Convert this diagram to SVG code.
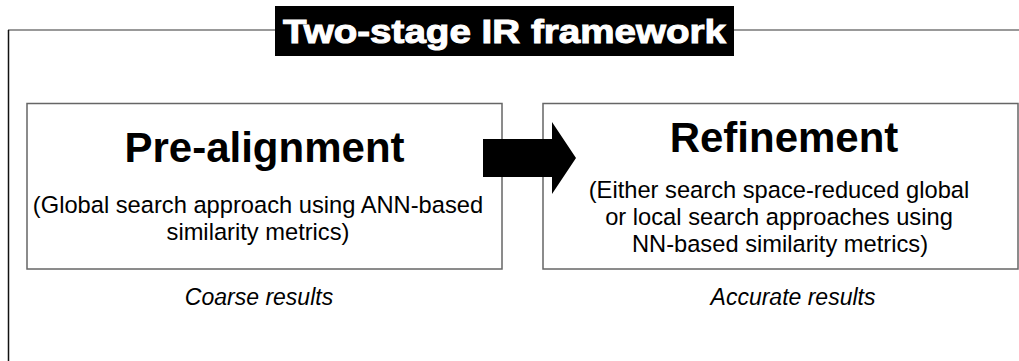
<svg xmlns="http://www.w3.org/2000/svg" width="1019" height="361" viewBox="0 0 1019 361">
<style>
.box{fill:#fff;stroke:#666;stroke-width:1.5}
.head{font-family:"Liberation Sans",Arial,sans-serif;font-weight:bold;font-size:42px;fill:#000;text-anchor:middle}
.sub{font-family:"Liberation Sans",Arial,sans-serif;font-size:23.7px;fill:#000;text-anchor:middle}
.res{font-family:"Liberation Sans",Arial,sans-serif;font-style:italic;font-size:23px;fill:#000;text-anchor:middle}
</style>
<rect width="1019" height="361" fill="#fff"/>
<g id="frame">
<line x1="8" y1="30" x2="1019" y2="30" stroke="#777" stroke-width="1.5"/>
<line x1="8.5" y1="30" x2="8.5" y2="361" stroke="#111" stroke-width="1.5"/>
</g>
<g id="title">
<rect x="275" y="6" width="459" height="50" fill="#000"/>
<text x="504.5" y="43" font-family="'Liberation Sans',Arial,sans-serif" font-weight="bold" font-size="33" fill="#fff" stroke="#fff" stroke-width="1" text-anchor="middle" textLength="443" lengthAdjust="spacingAndGlyphs">Two-stage IR framework</text>
</g>
<g id="prealignment">
<rect class="box" x="27" y="103.5" width="475" height="165.5"/>
<text class="head" x="264.5" y="162">Pre-alignment</text>
<text class="sub" x="258" y="213">(Global search approach using ANN-based</text>
<text class="sub" x="258" y="240">similarity metrics)</text>
<text class="res" x="259" y="305">Coarse results</text>
</g>
<g id="refinement">
<rect class="box" x="543" y="103.5" width="475" height="165.5"/>
<text class="head" x="784" y="152">Refinement</text>
<text class="sub" x="779" y="198">(Either search space-reduced global</text>
<text class="sub" x="779" y="225">or local search approaches using</text>
<text class="sub" x="780" y="252">NN-based similarity metrics)</text>
<text class="res" x="793" y="305">Accurate results</text>
</g>
<g id="connectors">
<path d="M483,139 H552 V122 L576,158 L552,194 V177 H483 Z" fill="#000"/>
</g>
</svg>
